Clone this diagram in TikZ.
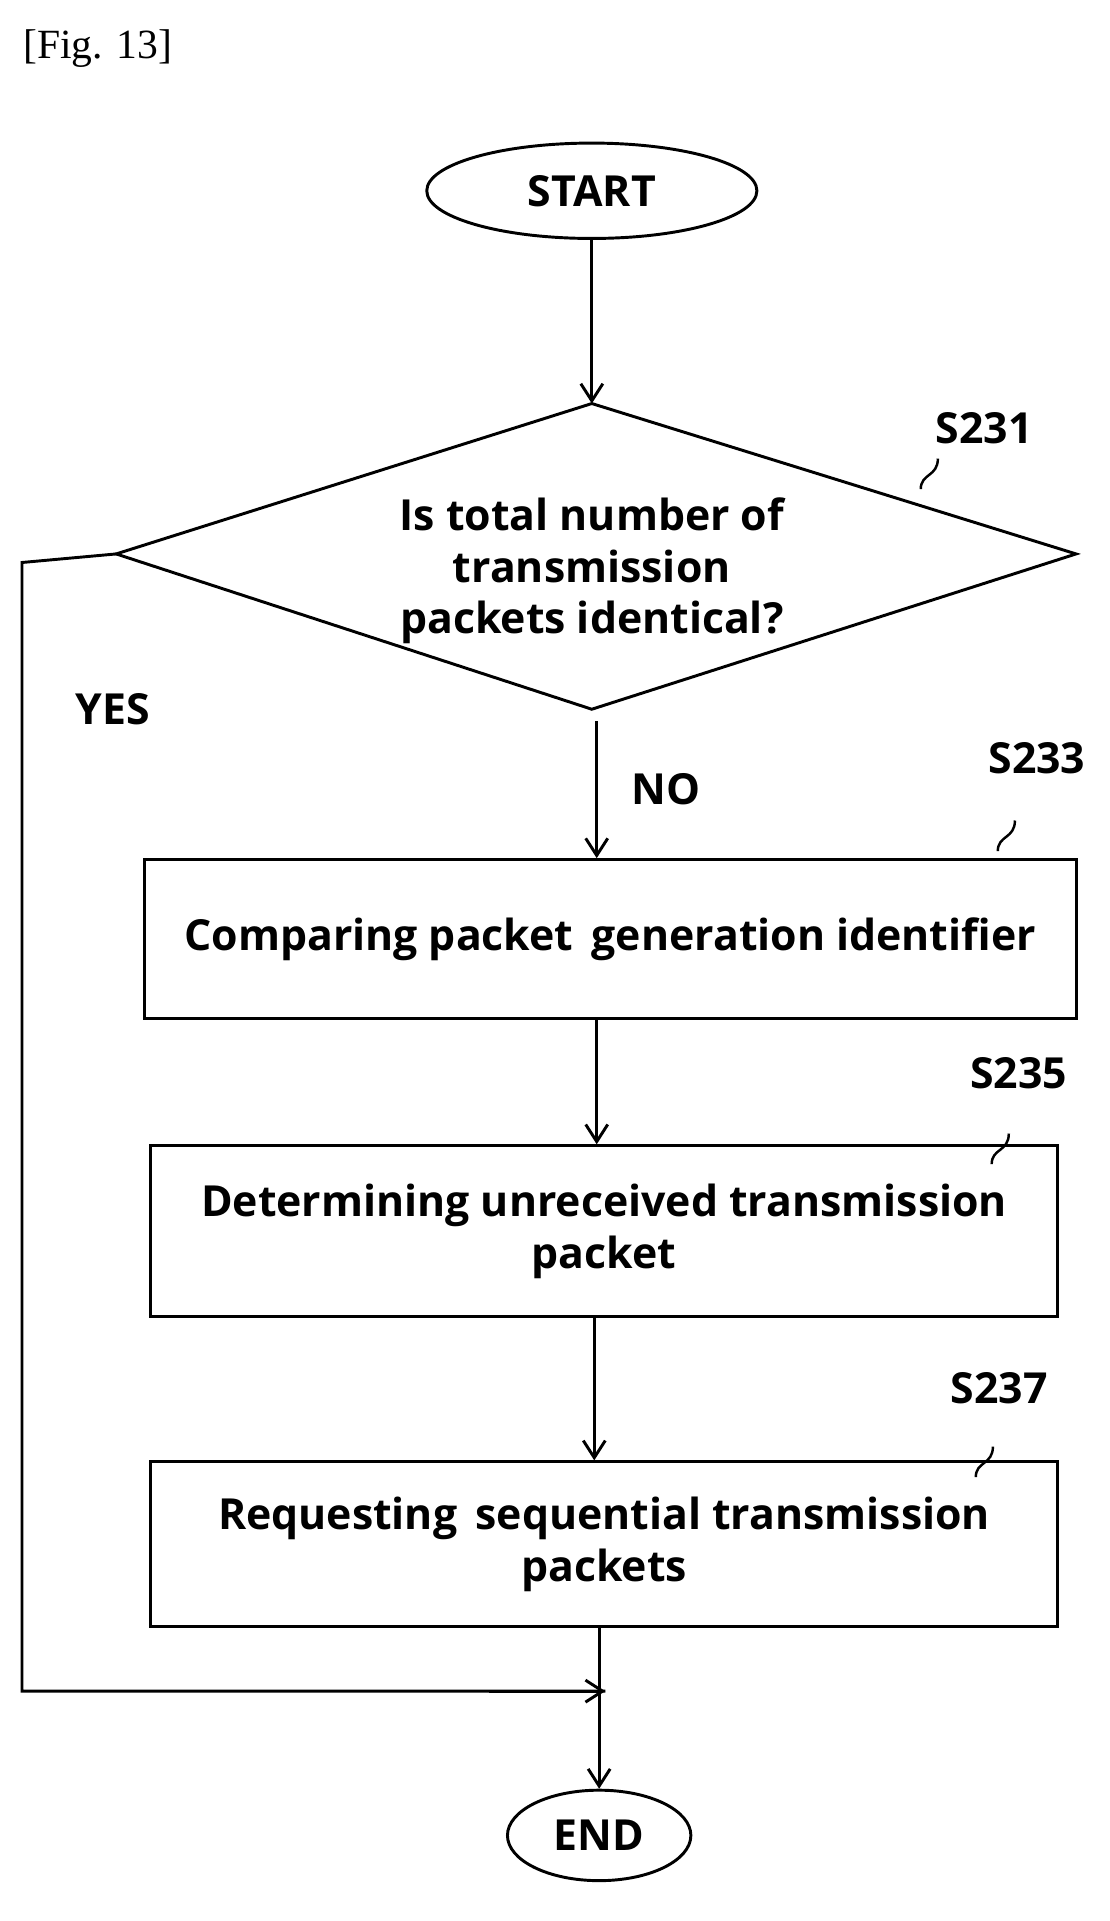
\documentclass[tikz,border=0pt]{standalone}
\usepackage{fontspec}
\setmainfont{Open Sans}
\newfontfamily\figfont{Liberation Serif}
\usetikzlibrary{shapes.geometric,arrows.meta}
\begin{document}
\begin{tikzpicture}[x=0.5pt,y=-0.5pt,
  every node/.style={font=\fontsize{17.5}{21}\selectfont\bfseries},
  ln/.style={line width=1.2pt},
  arr/.style={ln,-{Straight Barb[length=7pt,width=9pt]}},
  term/.style={draw,ln,ellipse,inner sep=0pt},
  box/.style={draw,ln,rectangle,inner sep=0pt,align=center}]
\useasboundingbox (0,0) rectangle (907,1571);
\node[font=\figfont\fontsize{17}{20}\selectfont,anchor=west] (fig) at (12,40) {[Fig. 13]};
\node[term,minimum width=135pt,minimum height=39pt] (start) at (484,156) {START};
\coordinate (dt) at (484,330);
\coordinate (dl) at (95,453);
\coordinate (dr) at (880,453);
\coordinate (db) at (484,580);
\draw[ln] (dt) -- (dr) -- (db) -- (dl) -- cycle;
\node[align=center] (dec) at (484,467) {Is total number of\\transmission\\packets identical?};
\draw[arr] (start) -- (dt);
\node[box,minimum width=381pt,minimum height=65pt] (b1) at (499,768) {Comparing packet\, generation identifier};
\node[box,minimum width=371pt,minimum height=70pt] (b2) at (494,1007) {Determining unreceived transmission\\packet};
\node[box,minimum width=371pt,minimum height=67.5pt] (b3) at (494,1263) {Requesting\, sequential transmission\\packets};
\node[term,minimum width=75pt,minimum height=37pt] (end) at (490,1501) {END};
\coordinate (c1) at (488,590);
\coordinate (x488) at (488,0);
\coordinate (x486) at (486,0);
\coordinate (x490) at (490,0);
\draw[arr] (c1) -- (x488 |- b1.north);
\node (no) at (545,645) {NO};
\draw[arr] (x488 |- b1.south) -- (x488 |- b2.north);
\draw[arr] (x486 |- b2.south) -- (x486 |- b3.north);
\draw[arr] (x490 |- b3.south) -- (end);
\coordinate (y1) at (18,460);
\coordinate (y2) at (18,1383);
\coordinate (y3) at (495,1383);
\draw[ln] (dl) -- (y1) -- (y2) -- (y3);
\draw[arr] (400,1383) -- (y3);
\node (yes) at (92,580) {YES};
\node (s231) at (805,350) {S231};
\node (s233) at (848,620) {S233};
\node (s235) at (833,878) {S235};
\node (s237) at (817,1135) {S237};
\foreach \x/\y in {765/385,828/681,823/937,810/1193}{
  \draw[line width=1pt] (\x-12,\y+15) .. controls (\x-12,\y+2) and (\x+2,\y+5) .. (\x+2,\y-10);
}
\end{tikzpicture}
\end{document}
